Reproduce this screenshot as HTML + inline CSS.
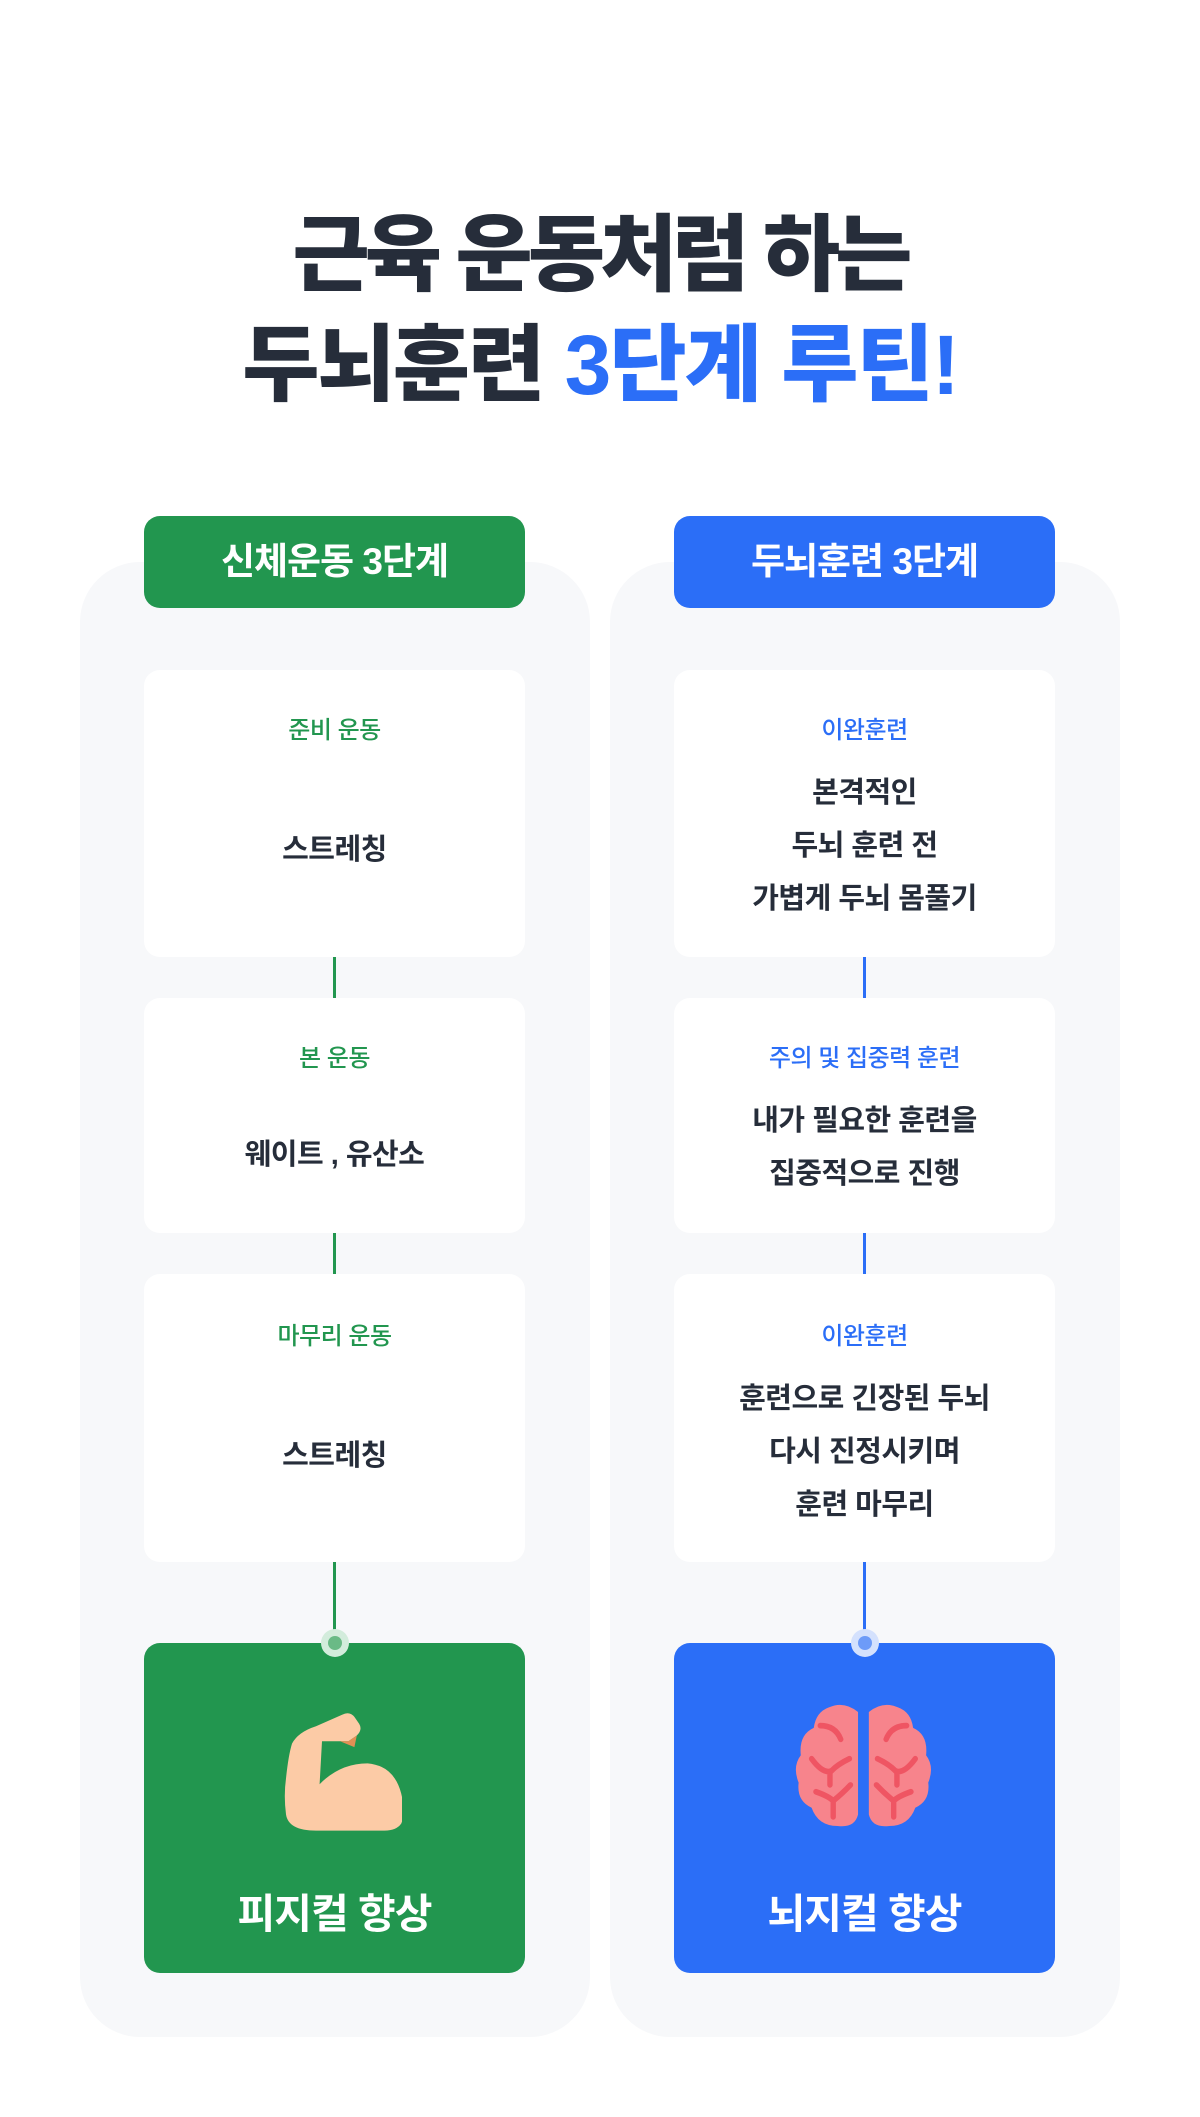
<!DOCTYPE html>
<html><head><meta charset="utf-8"><style>
*{margin:0;padding:0;box-sizing:border-box}
body{width:1200px;height:2117px;background:#fff;position:relative;overflow:hidden;font-family:"Liberation Sans","Noto Sans CJK KR",sans-serif;color:#262d3a}
.abs{position:absolute}
.title{left:0;width:1200px;text-align:center;font-size:84px;font-weight:900;letter-spacing:-5px;line-height:110px;color:#262d3a}
.panel{background:#f7f8fa;border-radius:60px;top:562px;height:1475px;width:510px}
.hdr{border-radius:16px;width:381px;height:92px;top:516px;color:#fff;font-size:37px;font-weight:700;text-align:center;line-height:92px;letter-spacing:-1px}
.card{background:#fff;border-radius:16px;width:381px}
.lbl{font-size:24px;font-weight:500;letter-spacing:-0.5px}
.main{font-size:29px;font-weight:700;letter-spacing:-0.5px;color:#262d3a}
.line{width:3px}
.big{border-radius:16px;width:381px;top:1643px;height:330px}
.dot{width:28px;height:28px;border-radius:50%;top:1629px}
.dot i{position:absolute;left:7px;top:7px;width:14px;height:14px;border-radius:50%}
.bt{color:#fff;font-size:41px;font-weight:700;letter-spacing:-1px}
</style></head><body>
<div class="abs title" style="top:200px">근육 운동처럼 하는</div>
<div class="abs title" style="top:310px;letter-spacing:-2px">두뇌훈련 <span style="color:#2b6ef7">3단계 루틴!</span></div>

<div class="abs panel" style="left:80px"></div>
<div class="abs panel" style="left:610px"></div>

<div class="abs hdr" style="left:144px;background:#22964f">신체운동 3단계</div>
<div class="abs hdr" style="left:674px;background:#2b6ef7">두뇌훈련 3단계</div>

<div class="abs card" style="left:144px;top:670px;height:287px"></div>
<div class="abs card" style="left:144px;top:998px;height:235px"></div>
<div class="abs card" style="left:144px;top:1274px;height:288px"></div>
<div class="abs line" style="left:333px;top:957px;height:41px;background:#22964f"></div>
<div class="abs line" style="left:333px;top:1233px;height:41px;background:#22964f"></div>
<div class="abs line" style="left:333px;top:1562px;height:75px;background:#22964f"></div>
<div class="abs card" style="left:674px;top:670px;height:287px"></div>
<div class="abs card" style="left:674px;top:998px;height:235px"></div>
<div class="abs card" style="left:674px;top:1274px;height:288px"></div>
<div class="abs line" style="left:863px;top:957px;height:41px;background:#2b6ef7"></div>
<div class="abs line" style="left:863px;top:1233px;height:41px;background:#2b6ef7"></div>
<div class="abs line" style="left:863px;top:1562px;height:75px;background:#2b6ef7"></div>

<div class="abs lbl" style="left:144px;width:381px;text-align:center;top:710px;color:#22964f">준비 운동</div>
<div class="abs main" style="left:144px;width:381px;text-align:center;top:826px">스트레칭</div>
<div class="abs lbl" style="left:144px;width:381px;text-align:center;top:1038px;color:#22964f">본 운동</div>
<div class="abs main" style="left:144px;width:381px;text-align:center;top:1131px">웨이트 , 유산소</div>
<div class="abs lbl" style="left:144px;width:381px;text-align:center;top:1316px;color:#22964f">마무리 운동</div>
<div class="abs main" style="left:144px;width:381px;text-align:center;top:1432px">스트레칭</div>

<div class="abs lbl" style="left:674px;width:381px;text-align:center;top:710px;color:#2b6ef7">이완훈련</div>
<div class="abs main" style="left:674px;width:381px;text-align:center;top:767px;line-height:53px">본격적인<br>두뇌 훈련 전<br>가볍게 두뇌 몸풀기</div>
<div class="abs lbl" style="left:674px;width:381px;text-align:center;top:1038px;color:#2b6ef7">주의 및 집중력 훈련</div>
<div class="abs main" style="left:674px;width:381px;text-align:center;top:1095px;line-height:53px">내가 필요한 훈련을<br>집중적으로 진행</div>
<div class="abs lbl" style="left:674px;width:381px;text-align:center;top:1316px;color:#2b6ef7">이완훈련</div>
<div class="abs main" style="left:674px;width:381px;text-align:center;top:1373px;line-height:53px">훈련으로 긴장된 두뇌<br>다시 진정시키며<br>훈련 마무리</div>

<div class="abs big" style="left:144px;background:#22964f"></div>
<div class="abs big" style="left:674px;background:#2b6ef7"></div>
<div class="abs dot" style="left:321px;background:#d3ecdc"><i style="background:#6aba86"></i></div>
<div class="abs dot" style="left:851px;background:#d4e1fd"><i style="background:#6d9bf8"></i></div>

<svg class="abs" style="left:272px;top:1703px" width="130" height="130" viewBox="0 0 130 130">
<g transform="translate(2,0) scale(1.2 1.16)">
<path d="M15 35 Q20 25 35 20 L57 10 Q63 7 67 12 L71 18 Q74 23 69 28 L62 33 L40 33 L38 70 Q55 52 78 52 Q100 54 106 78 Q110 95 106 104 Q102 110 92 110 L35 110 Q12 110 10 96 Q8 80 10 65 Q12 45 15 35 Z" fill="#fccba6"/>
<path d="M55 33 L62 33 L69 28 L67 38 Z" fill="#e38f55"/>
</g>
</svg>

<svg class="abs" style="left:795px;top:1700px" width="140" height="140" viewBox="0 0 140 140">
<g transform="translate(-5,-4) scale(1.08 1.14)">
<g fill="#f7848c">
<path d="M63 14 Q50 4 36 10 Q24 14 22 28 Q8 34 10 52 Q2 62 8 76 Q6 92 20 98 Q26 114 44 114 Q60 116 63 104 Z"/>
<path d="M73 14 Q86 4 100 10 Q112 14 114 28 Q128 34 126 52 Q134 62 128 76 Q130 92 116 98 Q110 114 92 114 Q76 116 73 104 Z"/>
</g>
<g fill="none" stroke="#ef5563" stroke-width="5" stroke-linecap="round">
<path d="M28 26 Q42 26 47 38"/><path d="M20 55 Q30 68 38 66 Q44 60 55 55 M37 66 L37 78"/><path d="M24 84 Q36 88 40 92 Q48 86 56 78 M40 92 L40 106"/>
<path d="M108 26 Q94 26 89 38"/><path d="M116 55 Q106 68 98 66 Q92 60 81 55 M99 66 L99 78"/><path d="M112 84 Q100 88 96 92 Q88 86 80 78 M96 92 L96 106"/>
</g>
</g>
</svg>

<div class="abs bt" style="left:144px;width:381px;text-align:center;top:1880px">피지컬 향상</div>
<div class="abs bt" style="left:674px;width:381px;text-align:center;top:1880px">뇌지컬 향상</div>
</body></html>
